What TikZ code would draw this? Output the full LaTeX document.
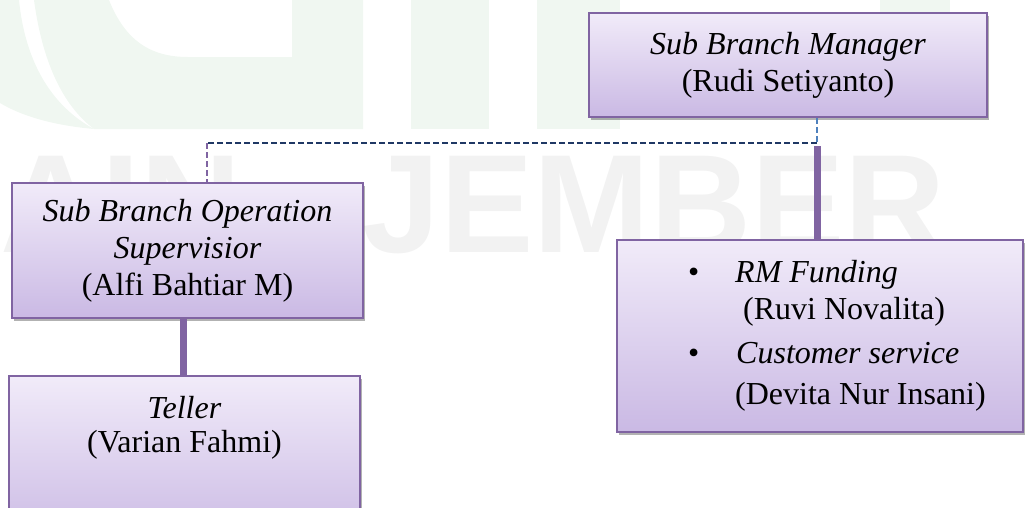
\documentclass[tikz,border=0pt]{standalone}
\usepackage{fontspec}
\setmainfont{Liberation Serif}
\newfontfamily\wmfont{Liberation Sans}
\usetikzlibrary{shadows}
\definecolor{boxline}{HTML}{8064A2}
\definecolor{boxtop}{HTML}{F1EBF9}
\definecolor{boxbot}{HTML}{CAB9E4}
\definecolor{dashblue}{HTML}{4F81BD}
\definecolor{dashnavy}{HTML}{1F3864}
\definecolor{wmgray}{HTML}{F2F2F2}
\definecolor{wmgreen}{HTML}{F0F7F1}
\tikzset{
 orgbox/.style={draw=boxline, line width=1.5pt, top color=boxtop, bottom color=boxbot,
   drop shadow={shadow xshift=2pt, shadow yshift=-3pt, opacity=0.3, fill=black},
   align=center, inner sep=2pt, font=\fontsize{32}{37}\selectfont},
 txt/.style={inner sep=0pt, font=\fontsize{32}{37}\selectfont},
 trunk/.style={draw=boxline, line width=7pt},
 dashline/.style={line width=1.5pt, dash pattern=on 6pt off 3pt},
 wm/.style={inner sep=0pt, anchor=base west, text=wmgray, font=\wmfont\bfseries\fontsize{140}{140}\selectfont},
}
\begin{document}
\begin{tikzpicture}[x=1pt,y=-1pt]
\useasboundingbox (0,0) rectangle (1025,507);
% watermark
\fill[wmgreen] (0,0) -- (19,0) .. controls (25,60) and (50,105) .. (94,129) .. controls (50,125) and (20,115) .. (0,103) -- cycle;
\fill[wmgreen] (34,0) .. controls (42,60) and (62,105) .. (94,129) -- (363,129) -- (363,0) -- (292,0) -- (292,57) -- (188,57) .. controls (150,57) and (125,40) .. (109,0) -- cycle;
\fill[wmgreen] (411,0) rectangle (489,129);
\fill[wmgreen] (537,0) rectangle (620,129);
\fill[wmgreen] (880,0) rectangle (950,14);
\node[wm] (wmA) at (0,252) {AIN};
\node[wm] (wmB) at (362,252) {JEMBER};
% boxes
\node[orgbox, minimum width=398pt, minimum height=104pt] (mgr) at (788,65)
  {\textit{Sub Branch Manager}\\(Rudi Setiyanto)};
\node[orgbox, minimum width=351pt, minimum height=135pt] (sbos) at (187.5,250.5)
  {\textit{Sub Branch Operation}\\\textit{Supervisior}\\(Alfi Bahtiar M)};
\node[orgbox, minimum width=351pt, minimum height=170pt] (teller) at (184.5,461) {};
\node[txt, anchor=base] (tl1) at (184.5,418) {\textit{Teller}};
\node[txt, anchor=base] (tl2) at (184.5,452) {(Varian Fahmi)};
\node[orgbox, minimum width=406pt, minimum height=192pt] (rm) at (820,336) {};
\node[txt, anchor=base west] (b1) at (688,282) {\textbullet};
\node[txt, anchor=base west] (rm1) at (735,282) {\textit{RM Funding}};
\node[txt, anchor=base west] (rm2) at (743,319) {(Ruvi Novalita)};
\node[txt, anchor=base west] (b2) at (688,363) {\textbullet};
\node[txt, anchor=base west] (rm3) at (736,363) {\textit{Customer service}};
\node[txt, anchor=base west] (rm4) at (735,404) {(Devita Nur Insani)};
% connectors
\coordinate (j) at (817,143);
\coordinate (k) at (207,143);
\coordinate (t) at (183,0);
\draw[dashline, dashblue] (mgr.south -| j) -- (j);
\draw[dashline, dashnavy] (j) -- (k);
\draw[dashline, boxline] (k) -- (k |- sbos.north);
\draw[trunk, shorten <=3pt] (j) -- (j |- rm.north);
\draw[trunk] (sbos.south -| t) -- (teller.north -| t);
\end{tikzpicture}
\end{document}
